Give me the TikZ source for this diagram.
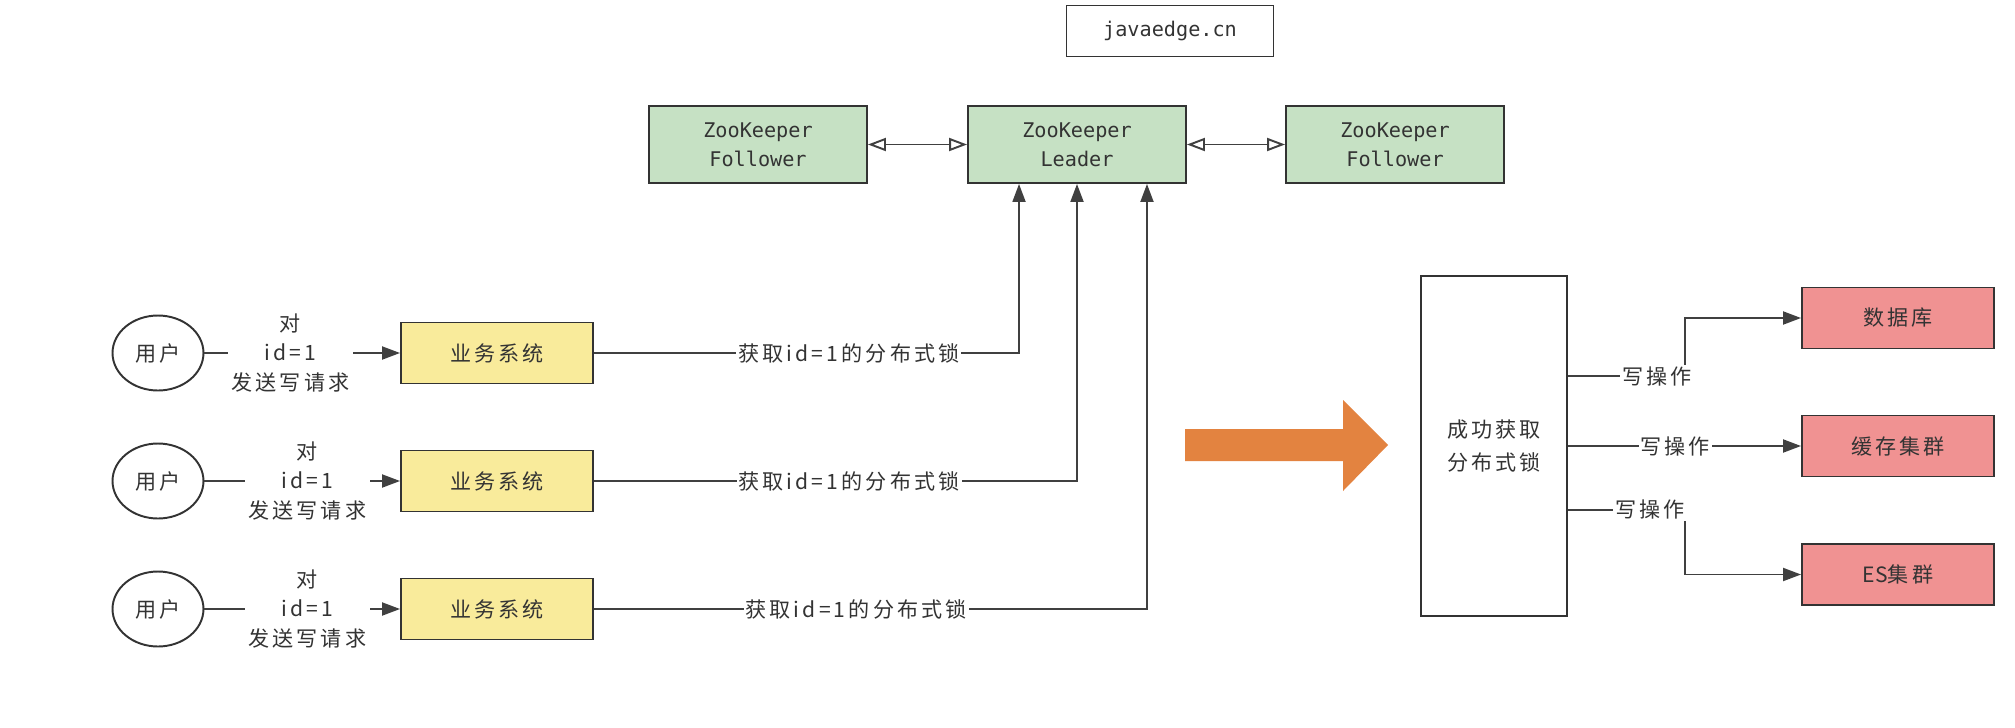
\documentclass[tikz,border=0pt]{standalone}
\usepackage{fontspec}
\setmainfont{Noto Sans CJK SC}[LetterSpace=15]
\newfontfamily\zkfont{DejaVu Sans Mono}
\usepackage{xcolor}
\usepackage{tikz}
\usetikzlibrary{arrows.meta, positioning, shapes.geometric, calc}
\definecolor{zkgreen}{RGB}{198,225,196}
\definecolor{bizyellow}{RGB}{249,235,155}
\definecolor{storepink}{RGB}{240,146,146}
\definecolor{bigorange}{RGB}{227,131,64}
\definecolor{inkgray}{RGB}{51,51,51}
\definecolor{linegray}{RGB}{64,64,64}

\begin{document}
\begin{tikzpicture}[x=0.02cm, y=-0.02cm,
    every node/.style={font=\fontsize{12}{17}\selectfont, text=inkgray},
    zk/.style={draw=inkgray, line width=1.1pt, fill=zkgreen, align=center,
        minimum width=4.36cm, minimum height=1.54cm, font=\zkfont\fontsize{11.5}{16.5}\selectfont},
    biz/.style={draw=inkgray, line width=1.1pt, fill=bizyellow, minimum width=3.84cm, minimum height=1.22cm},
    store/.style={draw=inkgray, line width=1.1pt, fill=storepink, minimum width=3.84cm, minimum height=1.22cm},
    user/.style={draw=inkgray, line width=1.1pt, ellipse, inner sep=0pt, minimum width=1.82cm, minimum height=1.5cm},
    req/.style={fill=white, align=center, inner xsep=2pt, inner ysep=0pt},
    lbl/.style={fill=white, inner xsep=1pt, inner ysep=1pt},
    flow/.style={draw=linegray, line width=1.1pt, -{Triangle[length=0.36cm, width=0.26cm]}},
    peer/.style={draw=linegray, line width=1.1pt, {Triangle[open, length=0.36cm, width=0.26cm]}-{Triangle[open, length=0.36cm, width=0.26cm]}}]
    \useasboundingbox (0,0) rectangle (2015,727);

    % zookeeper cluster
    \node[draw=inkgray, line width=1.1pt, minimum width=4.14cm, minimum height=1.02cm, font=\zkfont\fontsize{11.5}{16.5}\selectfont] (site) at (1170,31) {javaedge.cn};
    \node[zk] (fol1) at (758,144.5) {ZooKeeper\\Follower};
    \node[zk] (leader) at (1077,144.5) {ZooKeeper\\Leader};
    \node[zk] (fol2) at (1395,144.5) {ZooKeeper\\Follower};
    \draw[peer] (fol1) -- (leader);
    \draw[peer] (leader) -- (fol2);

    % three clients
    \node[user] (user1) at (158,353) {用户};
    \node[biz] (biz1) at (497,353) {业务系统};
    \draw[flow] (user1) -- node[req, pos=0.44] {对\\id=1\\发送写请求} (biz1);
    \draw[flow] (biz1) -| node[lbl, pos=0.3] {获取id=1的分布式锁} ([xshift=-1.16cm]leader.south);

    \node[user] (user2) at (158,481) {用户};
    \node[biz] (biz2) at (497,481) {业务系统};
    \draw[flow] (user2) -- node[req, pos=0.525] {对\\id=1\\发送写请求} (biz2);
    \draw[flow] (biz2) -| node[lbl, pos=0.264] {获取id=1的分布式锁} (leader.south);

    \node[user] (user3) at (158,609) {用户};
    \node[biz] (biz3) at (497,609) {业务系统};
    \draw[flow] (user3) -- node[req, pos=0.525] {对\\id=1\\发送写请求} (biz3);
    \draw[flow] (biz3) -| node[lbl, pos=0.237] {获取id=1的分布式锁} ([xshift=1.4cm]leader.south);

    % big arrow
    \fill[bigorange] (1185,429) -- (1343,429) -- (1343,400) -- (1388,445) -- (1343,491) -- (1343,461) -- (1185,461) -- cycle;

    % after the lock
    \node[draw=inkgray, line width=1.1pt, minimum width=2.92cm, minimum height=6.8cm, align=center, font=\fontsize{12}{19.3}\selectfont] (lock) at (1494,446) {成功获取\\分布式锁};
    \node[store] (db) at (1898,318) {数据库};
    \node[store] (cache) at (1898,446) {缓存集群};
    \node[store] (es) at (1898,574.5) {{\addfontfeature{LetterSpace=0}ES}集群};
    \draw[flow] ([yshift=1.4cm]lock.east) -| node[lbl, pos=0.38] {写操作} ([xshift=-2.32cm]db.west) -- (db.west);
    \draw[flow] (lock) -- node[lbl, pos=0.46] {写操作} (cache);
    \draw[flow] ([yshift=-1.28cm]lock.east) -| node[lbl, pos=0.35] {写操作} ([xshift=-2.32cm]es.west) -- (es.west);
\end{tikzpicture}
\end{document}
